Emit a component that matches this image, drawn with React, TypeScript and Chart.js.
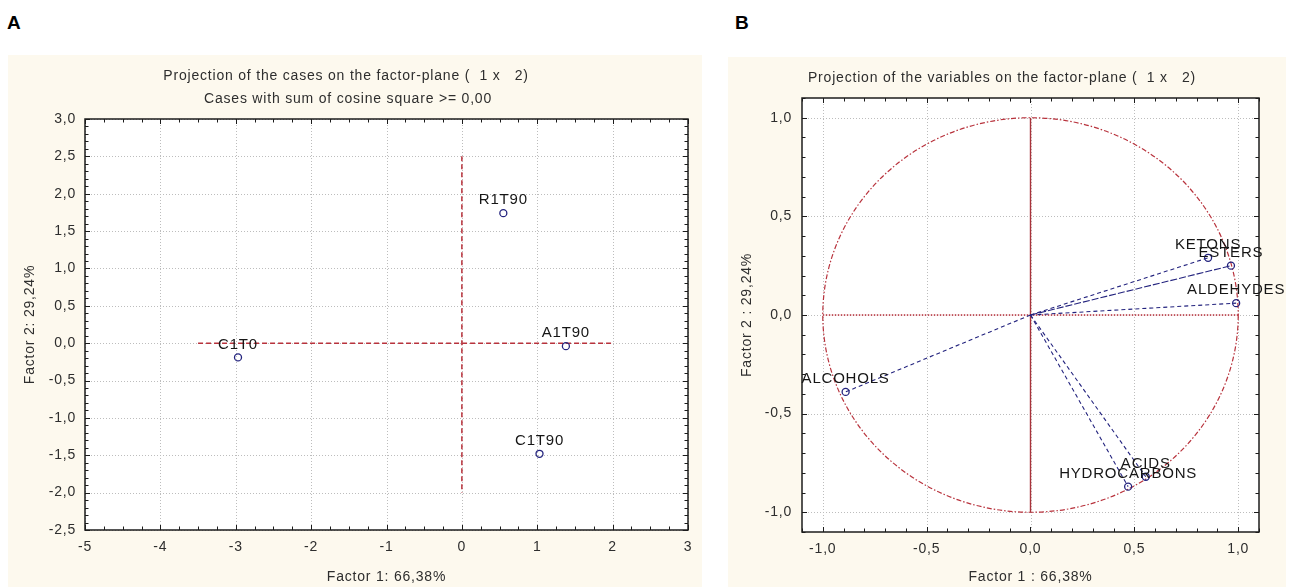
import React, { useEffect, useRef } from 'react';
import { Chart, registerables } from 'chart.js';

Chart.register(...registerables);

// ---------- Panel A: projection of the cases ----------
const caseNames = ['C1T0', 'R1T90', 'A1T90', 'C1T90'];
const caseFactor1 = [-2.97, 0.55, 1.38, 1.03];
const caseFactor2 = [-0.19, 1.74, -0.04, -1.48];
const caseRefHX = [-3.5, 2];
const caseRefHY = [0, 0];
const caseRefVX = [0, 0];
const caseRefVY = [2.5, -2];
const xTicksA = [-5, -4, -3, -2, -1, 0, 1, 2, 3];
const xTickLabelsA = ['-5', '-4', '-3', '-2', '-1', '0', '1', '2', '3'];
const yTicksA = [-2.5, -2, -1.5, -1, -0.5, 0, 0.5, 1, 1.5, 2, 2.5, 3];
const yTickLabelsA = ['-2,5', '-2,0', '-1,5', '-1,0', '-0,5', '0,0', '0,5', '1,0', '1,5', '2,0', '2,5', '3,0'];

// ---------- Panel B: projection of the variables ----------
const varNames = ['KETONS', 'ESTERS', 'ALDEHYDES', 'ALCOHOLS', 'ACIDS', 'HYDROCARBONS'];
const varFactor1 = [0.855, 0.965, 0.99, -0.89, 0.555, 0.47];
const varFactor2 = [0.29, 0.25, 0.06, -0.39, -0.82, -0.87];
const strayFactor1 = [1.21];
const strayFactor2 = [-1.22];
const axisVX = [0, 0];
const axisVY = [-1, 1];
const axisHX = [-1, 1];
const axisHY = [0, 0];
const xTicksB = [-1, -0.5, 0, 0.5, 1];
const xTickLabelsB = ['-1,0', '-0,5', '0,0', '0,5', '1,0'];
const yTicksB = [-1, -0.5, 0, 0.5, 1];
const yTickLabelsB = ['-1,0', '-0,5', '0,0', '0,5', '1,0'];

const FONT = '"Liberation Sans", Arial, Helvetica, sans-serif';
const LS = '0.8px';
const NAVY = '#23237e';
const RED = '#b8323c';
const TEXT = '#2e2e2e';
const CREAM = '#fdf9ee';

const pts = (xs: number[], ys: number[]) => xs.map((x, i) => ({ x, y: ys[i] }));

type DecorOpts = {
  names: string[];
  minorX: number;
  minorY: number;
  titles: { text: string; x: number; y: number }[];
  xTitle: { text: string; y: number };
  yTitle: { text: string; x: number };
  circle?: boolean;
};

function makeDecor(o: DecorOpts) {
  return {
    id: 'decor',
    beforeDraw(chart: any) {
      chart.ctx.letterSpacing = LS;
    },
    beforeDatasetsDraw(chart: any) {
      const { ctx, chartArea: a } = chart;
      const x = chart.scales.x;
      const y = chart.scales.y;
      ctx.save();
      ctx.fillStyle = '#ffffff';
      ctx.fillRect(a.left, a.top, a.right - a.left, a.bottom - a.top);
      ctx.strokeStyle = '#bdbdbd';
      ctx.lineWidth = 1;
      ctx.setLineDash([1, 2]);
      ctx.beginPath();
      x.ticks.forEach((t: any) => {
        const p = Math.round(x.getPixelForValue(t.value)) + 0.5;
        ctx.moveTo(p, a.top);
        ctx.lineTo(p, a.bottom);
      });
      y.ticks.forEach((t: any) => {
        const p = Math.round(y.getPixelForValue(t.value)) + 0.5;
        ctx.moveTo(a.left, p);
        ctx.lineTo(a.right, p);
      });
      ctx.stroke();
      if (o.circle) {
        const cx = x.getPixelForValue(0);
        const cy = y.getPixelForValue(0);
        const rx = x.getPixelForValue(1) - cx;
        const ry = cy - y.getPixelForValue(1);
        ctx.setLineDash([5, 2, 1.5, 2]);
        ctx.strokeStyle = RED;
        ctx.lineWidth = 1.2;
        ctx.beginPath();
        ctx.ellipse(cx, cy, rx, ry, 0, 0, Math.PI * 2);
        ctx.stroke();
      }
      ctx.restore();
    },
    afterDatasetsDraw(chart: any) {
      const { ctx, chartArea: a } = chart;
      const x = chart.scales.x;
      const y = chart.scales.y;
      ctx.save();
      ctx.letterSpacing = LS;
      // point labels
      ctx.font = `15px ${FONT}`;
      ctx.fillStyle = '#161616';
      ctx.textAlign = 'center';
      ctx.textBaseline = 'middle';
      const meta = chart.getDatasetMeta(0);
      meta.data.forEach((el: any, i: number) => {
        ctx.fillText(o.names[i], el.x, el.y - 13);
      });
      // frame
      ctx.setLineDash([]);
      ctx.strokeStyle = '#1c1c1c';
      ctx.lineWidth = 1.5;
      ctx.strokeRect(a.left, a.top, a.right - a.left, a.bottom - a.top);
      // inward tick marks
      ctx.lineWidth = 1;
      ctx.beginPath();
      const isMajor = (scale: any, v: number) => scale.ticks.some((t: any) => Math.abs(t.value - v) < 1e-6);
      for (let v = Math.ceil(x.min / o.minorX - 1e-6) * o.minorX; v <= x.max + 1e-6; v += o.minorX) {
        const p = Math.round(x.getPixelForValue(v)) + 0.5;
        const len = isMajor(x, v) ? 5 : 3.5;
        ctx.moveTo(p, a.bottom);
        ctx.lineTo(p, a.bottom - len);
        ctx.moveTo(p, a.top);
        ctx.lineTo(p, a.top + len);
      }
      for (let v = Math.ceil(y.min / o.minorY - 1e-6) * o.minorY; v <= y.max + 1e-6; v += o.minorY) {
        const p = Math.round(y.getPixelForValue(v)) + 0.5;
        const len = isMajor(y, v) ? 5 : 3.5;
        ctx.moveTo(a.left, p);
        ctx.lineTo(a.left + len, p);
        ctx.moveTo(a.right, p);
        ctx.lineTo(a.right - len, p);
      }
      ctx.stroke();
      // titles
      ctx.fillStyle = TEXT;
      ctx.font = `14px ${FONT}`;
      o.titles.forEach((t) => ctx.fillText(t.text, t.x, t.y));
      ctx.fillText(o.xTitle.text, (a.left + a.right) / 2, o.xTitle.y);
      ctx.translate(o.yTitle.x, (a.top + a.bottom) / 2);
      ctx.rotate(-Math.PI / 2);
      ctx.fillText(o.yTitle.text, 0, 0);
      ctx.restore();
    },
  };
}

function axis(min: number, max: number, values: number[], labels: string[], horizontal: boolean, size: number, pad: number) {
  return {
    type: 'linear',
    min,
    max,
    afterBuildTicks: (s: any) => {
      s.ticks = values.map((v) => ({ value: v }));
    },
    afterFit: (s: any) => {
      if (horizontal) s.height = size;
      else s.width = size;
    },
    grid: { display: false, drawTicks: false },
    border: { display: false },
    ticks: {
      autoSkip: false,
      maxRotation: 0,
      padding: pad,
      color: TEXT,
      font: { family: FONT, size: 14 },
      callback: (_v: any, i: number) => labels[i],
    },
  };
}

const baseOptions = (padding: any, scales: any) => ({
  responsive: false,
  maintainAspectRatio: false,
  animation: false,
  events: [],
  layout: { padding },
  plugins: { legend: { display: false }, tooltip: { enabled: false }, title: { display: false } },
  scales,
});

export default function App() {
  const refA = useRef<HTMLCanvasElement>(null);
  const refB = useRef<HTMLCanvasElement>(null);

  useEffect(() => {
    const chartA = new Chart(refA.current as HTMLCanvasElement, {
      type: 'scatter',
      data: {
        datasets: [
          {
            data: pts(caseFactor1, caseFactor2),
            pointRadius: 3.5,
            pointBorderWidth: 1.3,
            pointBorderColor: NAVY,
            pointBackgroundColor: 'rgba(255,255,255,0)',
          },
          {
            data: pts(caseRefHX, caseRefHY),
            showLine: true,
            borderColor: RED,
            borderWidth: 1.5,
            borderDash: [5, 3],
            pointRadius: 0,
          },
          {
            data: pts(caseRefVX, caseRefVY),
            showLine: true,
            borderColor: RED,
            borderWidth: 1.5,
            borderDash: [5, 3],
            pointRadius: 0,
          },
        ],
      } as any,
      options: baseOptions(
        { left: 0, right: 14, top: 64, bottom: 0 },
        {
          x: axis(-5, 3, xTicksA, xTickLabelsA, true, 57, 9),
          y: axis(-2.5, 3, yTicksA, yTickLabelsA, false, 77, 9),
        }
      ) as any,
      plugins: [
        makeDecor({
          names: caseNames,
          minorX: 0.25,
          minorY: 0.1,
          titles: [
            { text: 'Projection of the cases on the factor-plane (  1 x   2)', x: 338, y: 21 },
            { text: 'Cases with sum of cosine square >= 0,00', x: 340, y: 44 },
          ],
          xTitle: { text: 'Factor 1: 66,38%', y: 522 },
          yTitle: { text: 'Factor 2: 29,24%', x: 22 },
        }) as any,
      ],
    });

    const vectorSets = varNames.map((_, i) => ({
      data: pts([0, varFactor1[i]], [0, varFactor2[i]]),
      showLine: true,
      borderColor: NAVY,
      borderWidth: 1.1,
      borderDash: i === 1 ? [7, 2] : [4, 3],
      pointRadius: 0,
    }));

    const chartB = new Chart(refB.current as HTMLCanvasElement, {
      type: 'scatter',
      data: {
        datasets: [
          {
            data: pts(varFactor1, varFactor2),
            pointRadius: 3.5,
            pointBorderWidth: 1.3,
            pointBorderColor: NAVY,
            pointBackgroundColor: 'rgba(255,255,255,0)',
          },
          {
            data: pts(strayFactor1, strayFactor2),
            pointRadius: 3.5,
            pointBorderWidth: 1.3,
            pointBorderColor: NAVY,
            pointBackgroundColor: 'rgba(255,255,255,0)',
            clip: false,
          },
          ...vectorSets,
          {
            data: pts(axisVX, axisVY),
            showLine: true,
            borderColor: '#a8323a',
            borderWidth: 1.4,
            pointRadius: 0,
          },
          {
            data: pts(axisHX, axisHY),
            showLine: true,
            borderColor: RED,
            borderWidth: 1.3,
            borderDash: [1.5, 1.5],
            pointRadius: 0,
          },
        ],
      } as any,
      options: baseOptions(
        { left: 0, right: 27, top: 41, bottom: 0 },
        {
          x: axis(-1.1, 1.1, xTicksB, xTickLabelsB, true, 55, 9),
          y: axis(-1.1, 1.1, yTicksB, yTickLabelsB, false, 74, 10),
        }
      ) as any,
      plugins: [
        makeDecor({
          names: varNames,
          minorX: 0.1,
          minorY: 0.1,
          circle: true,
          titles: [{ text: 'Projection of the variables on the factor-plane (  1 x   2)', x: 274, y: 21 }],
          xTitle: { text: 'Factor 1 : 66,38%', y: 520 },
          yTitle: { text: 'Factor 2 : 29,24%', x: 19 },
        }) as any,
      ],
    });

    return () => {
      chartA.destroy();
      chartB.destroy();
    };
  }, []);

  const letter: React.CSSProperties = {
    position: 'absolute',
    top: 13,
    fontFamily: FONT,
    fontWeight: 'bold',
    fontSize: 19,
    lineHeight: '19px',
    color: '#000',
  };

  return (
    <div style={{ position: 'absolute', left: 0, top: 0, width: 1293, height: 587, background: '#fff', overflow: 'hidden' }}>
      <div style={{ ...letter, left: 7 }}>A</div>
      <div style={{ ...letter, left: 735 }}>B</div>
      <canvas
        ref={refA}
        width={694}
        height={532}
        style={{ position: 'absolute', left: 8, top: 55, width: 694, height: 532, background: CREAM }}
      />
      <canvas
        ref={refB}
        width={558}
        height={530}
        style={{ position: 'absolute', left: 728, top: 57, width: 558, height: 530, background: CREAM }}
      />
    </div>
  );
}
